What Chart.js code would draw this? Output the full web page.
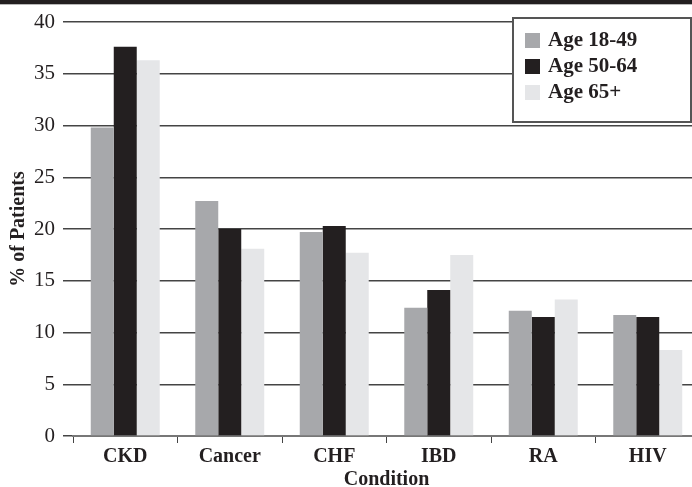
<!DOCTYPE html>
<html lang="en">
<head>
    <meta charset="UTF-8">
    <title>% of Patients by Condition and Age</title>
    <script src="https://cdn.jsdelivr.net/npm/chart.js"></script>
    <style>
        body {
            margin: 0;
            padding: 0;
            background: #ffffff;
            overflow: hidden;
            width: 692px;
            height: 487px;
            position: relative;
        }

        #top-band {
            position: absolute;
            left: 0;
            top: 0;
            width: 692px;
            height: 4px;
            background: #231f20;
            border-bottom: 1px solid #b8b8b8;
            z-index: 2;
        }

        #chart-box {
            position: absolute;
            left: 0;
            top: 0;
            width: 700px;
            height: 487px;
        }
    </style>
</head>
<body>
    <div id="top-band"></div>
    <div id="chart-box">
        <canvas id="bar-chart" width="700" height="487"></canvas>
    </div>
    <script>
        const conditions = ["CKD", "Cancer", "CHF", "IBD", "RA", "HIV"];
        const age18to49 = [29.8, 22.7, 19.7, 12.4, 12.1, 11.7];
        const age50to64 = [37.6, 20.0, 20.3, 14.1, 11.5, 11.5];
        const age65plus = [36.3, 18.1, 17.7, 17.5, 13.2, 8.3];
        const yTicks = [0, 5, 10, 15, 20, 25, 30, 35, 40];

        const serif = "'Liberation Serif', 'DejaVu Serif', serif";
        const ink = "#231f20";

        // legend drawn as a framed box inside the plot, top right
        const boxLegend = {
            id: "boxLegend",
            afterDatasetsDraw(chart) {
                const ctx = chart.ctx;
                const left = 513, top = 18, right = 691, bottom = 122;
                ctx.save();
                ctx.fillStyle = "#ffffff";
                ctx.fillRect(left, top, right - left, bottom - top);
                ctx.strokeStyle = "#555555";
                ctx.lineWidth = 2;
                ctx.strokeRect(left, top, right - left, bottom - top);

                ctx.font = "bold 21px " + serif;
                ctx.textBaseline = "middle";
                ctx.textAlign = "left";
                chart.data.datasets.forEach((ds, i) => {
                    const cy = top + 22 + i * 26;
                    ctx.fillStyle = ds.backgroundColor;
                    ctx.fillRect(left + 12, cy - 7, 15, 15);
                    ctx.fillStyle = ink;
                    ctx.fillText(ds.label, left + 35, cy + 1);
                });
                ctx.restore();
            }
        };

        new Chart(document.getElementById("bar-chart"), {
            type: "bar",
            data: {
                labels: conditions,
                datasets: [
                    { label: "Age 18-49", data: age18to49, backgroundColor: "#a7a8ab" },
                    { label: "Age 50-64", data: age50to64, backgroundColor: "#231f20" },
                    { label: "Age 65+", data: age65plus, backgroundColor: "#e5e6e8" }
                ]
            },
            options: {
                responsive: false,
                animation: false,
                layout: { padding: { top: 22, left: 0, right: 0, bottom: 0 } },
                datasets: {
                    bar: { categoryPercentage: 0.66, barPercentage: 1.0, borderWidth: 0 }
                },
                plugins: {
                    legend: { display: false },
                    tooltip: { enabled: false }
                },
                scales: {
                    x: {
                        afterFit(scale) { scale.height = 51; },
                        border: { display: true, color: "#777777", width: 2 },
                        grid: {
                            offset: true,
                            drawOnChartArea: false,
                            drawTicks: true,
                            tickLength: 7,
                            color: "#444444"
                        },
                        ticks: {
                            color: ink,
                            padding: 2,
                            font: { family: serif, size: 20, weight: "bold" }
                        },
                        title: {
                            display: true,
                            text: "Condition",
                            color: ink,
                            padding: 0,
                            font: { family: serif, size: 20, weight: "bold", lineHeight: 0.75 }
                        }
                    },
                    y: {
                        min: 0,
                        max: 40,
                        afterFit(scale) { scale.width = 73; },
                        afterBuildTicks(scale) {
                            scale.ticks = yTicks.map(v => ({ value: v }));
                        },
                        border: { display: false },
                        grid: {
                            color: "#444444",
                            lineWidth: 1.5,
                            tickLength: 10
                        },
                        ticks: {
                            color: ink,
                            padding: 8,
                            font: { family: serif, size: 21 }
                        },
                        title: {
                            display: true,
                            text: "% of Patients",
                            color: ink,
                            padding: { top: 7, bottom: 0 },
                            font: { family: serif, size: 20, weight: "bold" }
                        }
                    }
                }
            },
            plugins: [boxLegend]
        });
    </script>
</body>
</html>
